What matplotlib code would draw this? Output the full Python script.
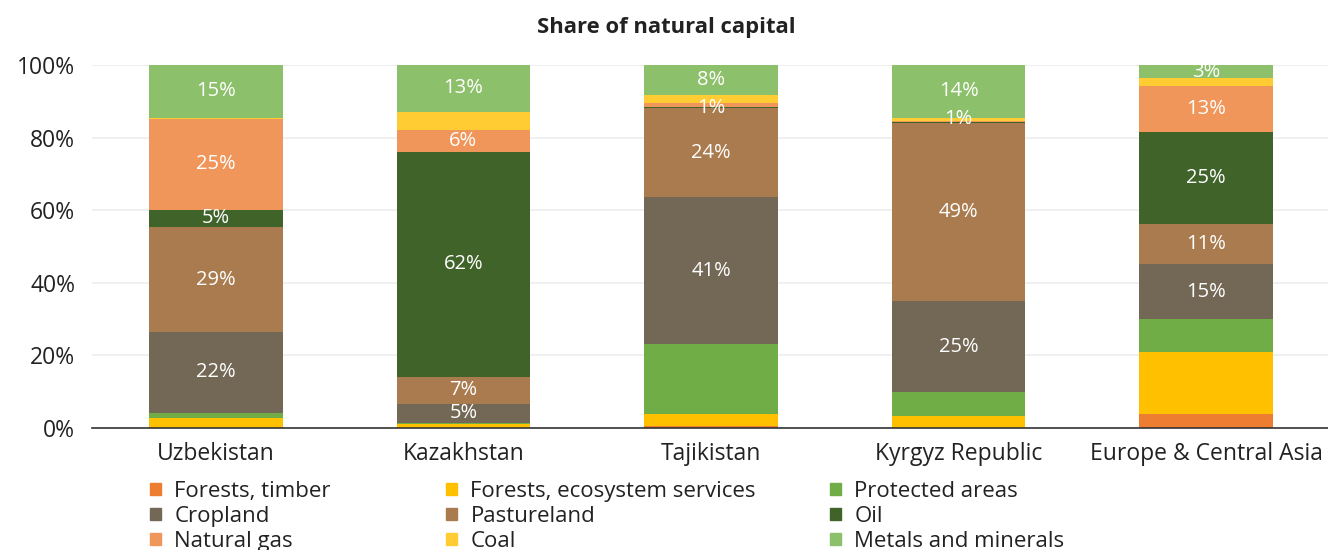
import matplotlib
matplotlib.use("Agg")
import matplotlib.pyplot as plt
from matplotlib.patches import Patch

plt.rcParams['font.family'] = ['Open Sans', 'DejaVu Sans']

countries = ["Uzbekistan", "Kazakhstan", "Tajikistan", "Kyrgyz Republic", "Europe & Central Asia"]

# shares in percent, bottom to top
forests_timber = [0.0, 0.0, 0.5, 0.0, 3.9]
forests_eco = [2.7, 1.2, 3.3, 3.3, 17.0]
protected = [1.5, 0.3, 19.3, 6.6, 9.1]
cropland = [22.2, 5.2, 40.5, 25.0, 15.2]
pastureland = [29.0, 7.4, 24.5, 49.0, 11.0]
oil = [4.7, 62.0, 0.3, 0.5, 25.3]
natural_gas = [25.0, 6.0, 1.0, 0.3, 12.7]
coal = [0.3, 5.0, 2.2, 0.8, 2.2]
metals = [14.6, 13.0, 8.5, 14.5, 3.5]

# data labels as printed on the chart ('' = none)
lbl_forests_timber = ["", "", "", "", ""]
lbl_forests_eco = ["", "", "", "", ""]
lbl_protected = ["", "", "", "", ""]
lbl_cropland = ["22%", "5%", "41%", "25%", "15%"]
lbl_pastureland = ["29%", "7%", "24%", "49%", "11%"]
lbl_oil = ["5%", "62%", "1%", "", "25%"]
lbl_natural_gas = ["25%", "6%", "", "", "13%"]
lbl_coal = ["", "", "", "1%", ""]
lbl_metals = ["15%", "13%", "8%", "14%", "3%"]

series = [
    ("Forests, timber", forests_timber, lbl_forests_timber, "#ED7D31"),
    ("Forests, ecosystem services", forests_eco, lbl_forests_eco, "#FFC000"),
    ("Protected areas", protected, lbl_protected, "#70AD47"),
    ("Cropland", cropland, lbl_cropland, "#736756"),
    ("Pastureland", pastureland, lbl_pastureland, "#A97B4E"),
    ("Oil", oil, lbl_oil, "#3F6329"),
    ("Natural gas", natural_gas, lbl_natural_gas, "#F0965A"),
    ("Coal", coal, lbl_coal, "#FFCC33"),
    ("Metals and minerals", metals, lbl_metals, "#8CC06A"),
]

fig = plt.figure(figsize=(13.28, 5.5), dpi=100)
ax = fig.add_axes([92 / 1328, 1 - 428 / 550, 1238 / 1328, 363 / 550])

x = list(range(len(countries)))
bottom = [0.0] * len(countries)
handles = {}
for name, vals, lbls, color in series:
    bars = ax.bar(x, vals, 0.54, bottom=bottom, color=color, zorder=2)
    for i, b in enumerate(bars):
        if lbls[i]:
            ax.text(b.get_x() + b.get_width() / 2, bottom[i] + vals[i] / 2, lbls[i],
                    ha="center", va="center", color="white", fontsize=14.5, zorder=3)
    bottom = [bt + v for bt, v in zip(bottom, vals)]
    handles[name] = Patch(color=color)

ax.set_xlim(-0.5, len(countries) - 0.5)
ax.set_ylim(0, 100)
ax.set_yticks([0, 20, 40, 60, 80, 100])
ax.set_yticklabels([f"{v}%" for v in range(0, 101, 20)], fontsize=16.5, color="#222222")
ax.set_xticks(x)
ax.set_xticklabels(countries, fontsize=16.5, color="#222222")
ax.tick_params(axis="y", length=0, pad=12)
ax.tick_params(axis="x", length=0, pad=10)
ax.grid(axis="y", color="#EEEEEE", linewidth=1.2, zorder=0)
for s in ["top", "right", "left"]:
    ax.spines[s].set_visible(False)
ax.spines["bottom"].set_color("#333333")
ax.spines["bottom"].set_linewidth(1.2)

fig.text(666 / 1328, 1 - 27 / 550, "Share of natural capital", ha="center", va="center",
         fontsize=15.8, fontweight="bold", color="#222222")

# legend: three columns placed separately
cols = [
    ("Forests, timber", "Cropland", "Natural gas"),
    ("Forests, ecosystem services", "Pastureland", "Coal"),
    ("Protected areas", "Oil", "Metals and minerals"),
]
col_x = [150, 446, 830]
for cx, names in zip(col_x, cols):
    leg = fig.legend([handles[n] for n in names], names, loc="upper left",
                     bbox_to_anchor=(cx / 1328, 1 - 481 / 550), frameon=False,
                     fontsize=16, handlelength=0.5, handleheight=0.5, handletextpad=0.6,
                     labelspacing=0.18, borderaxespad=0, borderpad=0)
    for t in leg.get_texts():
        t.set_color("#222222")

fig.savefig("out.png", dpi=100)
